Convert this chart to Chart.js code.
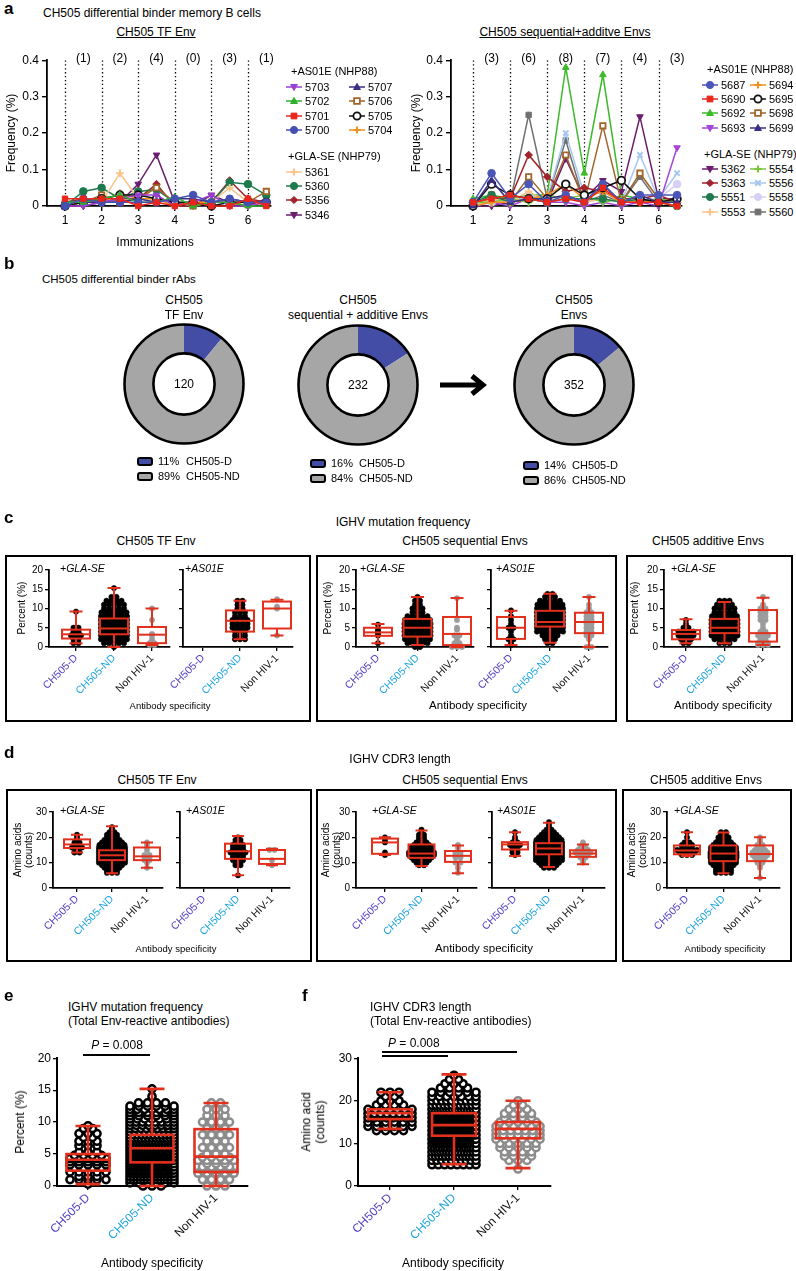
<!DOCTYPE html>
<html><head><meta charset="utf-8">
<script src="https://cdn.jsdelivr.net/npm/chart.js@4.4.1/dist/chart.umd.min.js"></script>
<style>
html,body{margin:0;padding:0;background:#fff}
body{width:796px;height:1271px;position:relative;overflow:hidden;font-family:"Liberation Sans",Arial,Helvetica,sans-serif;color:#000}
.t{position:absolute;white-space:nowrap;line-height:1}
canvas{position:absolute}
.frame{position:absolute;border:2px solid #000;box-sizing:border-box}
.sw{position:absolute;width:16px;height:9px;border:2px solid #000;border-radius:3px;box-sizing:border-box}
</style></head><body>
<script>
// ---------------- DATA ----------------
// Panel a: time points (pre/post each immunization)
const immunizationX = [1,1.5,2,2.5,3,3.5,4,4.5,5,5.5,6,6.5];
const immunizationTicks = [1,2,3,4,5,6];
const tfCounts  = ['(1)','(2)','(4)','(0)','(3)','(1)'];
const seqCounts = ['(3)','(6)','(8)','(7)','(4)','(3)'];
const freqTicks = [0,0.1,0.2,0.3,0.4];

const tfIds = ['5701','5700','5702','5703','5707','5705','5704','5706','5361','5360','5356','5346'];
const tfFreq = [
  [0.02,0.02,0.02,0.02,0,0.01,0,0.01,0,0,0.02,0],          // 5701
  [0,0.02,0.01,0.01,0.01,0.01,0.02,0.03,0.01,0.02,0.01,0.01], // 5700
  [0.01,0.01,0.02,0.03,0.01,0.01,0.025,0,0.01,0.01,0,0],   // 5702
  [0,0,0.01,0.02,0.03,0.03,0,0.01,0.03,0,0,0.01],          // 5703
  [0.01,0.01,0.01,0.01,0.02,0.01,0.02,0.02,0.01,0.02,0.01,0.01], // 5707
  [0,0.01,0.02,0.03,0.03,0.02,0.01,0.01,0,0.01,0.01,0.01], // 5705
  [0,0.01,0.01,0.035,0.02,0.02,0,0.01,0.01,0.01,0,0.01],   // 5704
  [0,0.01,0.03,0.01,0.02,0.05,0.01,0,0.01,0.01,0.01,0.04], // 5706
  [0,0.01,0.01,0.09,0.02,0.02,0.01,0,0.01,0.05,0.01,0.01], // 5361
  [0,0.04,0.05,0.02,0.04,0.045,0.01,0.005,0.01,0.065,0.06,0.03], // 5360
  [0.01,0.02,0.01,0.02,0.02,0.06,0,0,0.01,0.07,0.02,0.01], // 5356
  [0,0,0.01,0.01,0.06,0.14,0.01,0,0.03,0.01,0,0.02]        // 5346
];
const seqIds = ['5690','5687','5699','5695','5694','5551','5554','5553','5558','5693','5363','5698','5556','5560','5362','5692'];
const seqFreq = [
  [0.01,0.02,0.03,0.02,0.01,0.02,0.01,0.05,0.01,0.01,0.01,0],     // 5690
  [0.01,0.09,0.02,0.06,0.01,0.03,0.01,0.06,0.01,0.03,0.03,0.03],  // 5687
  [0,0.07,0.01,0.02,0.02,0.03,0.01,0.06,0.01,0.03,0.01,0.01],     // 5699
  [0,0.06,0.03,0.02,0.02,0.06,0.03,0.05,0.07,0.02,0.01,0.02],     // 5695
  [0,0.01,0.01,0.02,0.03,0.06,0.02,0.04,0.01,0.01,0.01,0],        // 5694
  [0.01,0.03,0.01,0.02,0.01,0.02,0.02,0.02,0.01,0.02,0.01,0],     // 5551
  [0.01,0.01,0.02,0.01,0.03,0.02,0.03,0.01,0.02,0.01,0.02,0.01],  // 5554
  [0,0.02,0.01,0.04,0.01,0.03,0.01,0.02,0.01,0.02,0.01,0],        // 5553
  [0,0.01,0.01,0.02,0.01,0.03,0.01,0.02,0.01,0.02,0.02,0.06],     // 5558
  [0,0.01,0,0.02,0.01,0.01,0,0.01,0,0.01,0,0.16],                 // 5693
  [0.01,0.02,0.02,0.14,0.08,0.04,0.05,0.04,0.02,0.02,0.03,0.01],  // 5363
  [0,0.03,0.01,0.08,0.02,0.14,0.01,0.22,0.01,0.09,0.02,0.01],     // 5698
  [0,0.02,0.01,0.03,0.02,0.2,0.03,0.04,0.01,0.14,0.02,0.09],      // 5556
  [0,0.02,0.01,0.25,0.02,0.18,0.01,0.03,0.01,0.08,0.01,0.01],     // 5560
  [0,0,0.01,0.02,0.01,0.13,0.02,0.07,0.04,0.245,0.02,0.02],       // 5362
  [0.02,0.03,0.02,0.03,0.03,0.38,0.09,0.36,0.03,0.02,0.02,0.01]   // 5692
];

// Panel b
const donutTitles = [['CH505','TF Env'],['CH505','sequential + additive Envs'],['CH505','Envs']];
const donutTotals = [120, 232, 352];
const donutPctD  = [11, 16, 14];
const donutPctND = [89, 84, 86];
const donutLabels = ['CH505-D','CH505-ND'];

// Panels c-f categories
const CATS = ['CH505-D','CH505-ND','Non HIV-1'];
const pctTicksC = [0,5,10,15,20];
const aaTicksD = [0,10,20,30];

// box stats: [min, q1, median, q3, max]
const cTF_GLA_box  = [[1.0,2.2,3.3,4.5,9.2],[0,3.3,4.8,7.4,15.3],[0.5,1.0,3.2,5.2,10.0]];
const cTF_AS_box   = [null,[2.0,4.0,6.8,9.5,12.0],[3.0,4.8,10.0,11.8,12.3]];
const cSeq_GLA_box = [[1.0,2.9,3.8,5.0,6.0],[0.5,2.7,5.0,7.3,13.0],[0,0.5,3.4,7.8,12.7]];
const cSeq_AS_box  = [[0.5,2.1,5.0,7.8,9.4],[1.1,5.3,6.5,9.4,13.8],[0,3.6,6.5,8.9,13.0]];
const cAdd_GLA_box = [[1.0,2.0,3.4,4.4,7.2],[1.0,3.6,5.0,7.3,11.7],[0.5,1.4,3.6,9.6,12.8]];

// dot histograms: [value, count]
const cTF_GLA_D   = [[1,2],[2,2],[3,3],[3.5,2],[4,2],[5,2],[9.2,1]];
const cTF_GLA_ND  = [[0,1],[1,5],[2,8],[3,10],[4,12],[5,12],[6,10],[7,9],[8,7],[9,6],[10,5],[11,5],[12,4],[13,2],[15.3,1]];
const cTF_GLA_Non = [[0.5,2],[1,2],[2,1],[3,1],[3.4,1],[7,1],[10,1]];
const cTF_AS_ND   = [[2,3],[3,3],[4,3],[5,4],[6,4],[7,4],[8,3],[9,3],[10,2],[11,2],[12,2]];
const cTF_AS_Non  = [[3,1],[10,1],[10.5,1],[12.4,1]];
const cSeq_GLA_D   = [[1,1],[3,1],[3.5,1],[4,1],[4.5,1],[5.8,1]];
const cSeq_GLA_ND  = [[0,2],[1,5],[2,6],[3,7],[4,8],[5,8],[6,7],[7,6],[8,5],[9,3],[10,3],[11,2],[12,2],[13,1]];
const cSeq_GLA_Non = [[0,3],[0.5,1],[1,2],[2,1],[3,2],[4.5,1],[5,1],[7,1],[12.7,1]];
const cSeq_AS_D    = [[0.5,1],[1,1],[2,2],[3,1],[4,1],[5,2],[6,1],[7,1],[8,1],[9.5,1]];
const cSeq_AS_ND   = [[1,2],[2,3],[3,4],[4,7],[5,10],[6,12],[7,12],[8,11],[9,10],[10,8],[11,6],[12,5],[13,3],[13.8,2]];
const cSeq_AS_Non  = [[0,2],[2,1],[3,2],[4,2],[5,2],[6,2],[7,2],[8,2],[9,2],[10,1],[11,1],[13,1]];
const cAdd_GLA_D   = [[1,2],[2,3],[3,4],[3.5,3],[4,4],[5,2],[6,1],[7,1]];
const cAdd_GLA_ND  = [[1,3],[2,5],[3,7],[4,8],[5,9],[6,8],[7,7],[8,6],[9,5],[10,5],[11,4],[12,3]];
const cAdd_GLA_Non = [[0.5,3],[1,3],[2,2],[3,3],[4,2],[5,1],[6,1],[7,2],[8,2],[9,2],[10,2],[11,1],[13,1]];

const dTF_GLA_box  = [[14,15.8,17.2,19.2,21],[5.8,11.0,12.9,14.9,24.4],[8,11,12.5,16,18]];
const dTF_AS_box   = [null,[5,11.5,14.5,17.5,20.5],[9,9.5,11.5,15,15.5]];
const dSeq_GLA_box = [[13,13.5,18,19.5,20],[8.7,11.9,13.6,17.2,22.7],[5.8,10.3,12.7,14.6,16.8]];
const dSeq_AS_box  = [[12.6,15.2,17.2,18.1,22],[8.3,13.3,15.6,17.7,25.8],[9.4,12.3,13.6,14.9,17.2]];
const dAdd_GLA_box = [[12.6,13.3,14.8,16.8,22],[5.8,10.6,13.6,16.8,21.9],[3.9,10.6,13.4,16.8,20]];

const dTF_GLA_D   = [[14,2],[15,1],[16,3],[17,2],[18,2],[19,1],[20,1],[21,1]];
const dTF_GLA_ND  = [[6,3],[7,3],[8,4],[9,5],[10,7],[11,9],[12,11],[13,11],[14,10],[15,9],[16,7],[17,6],[18,5],[19,4],[20,3],[21,3],[22,2],[23,1],[24,1]];
const dTF_GLA_Non = [[8,1],[10,1],[11,2],[12,2],[13,2],[15,1],[17,1],[18,1]];
const dTF_AS_ND   = [[5,1],[9,2],[10,2],[11,3],[12,3],[13,3],[14,4],[15,3],[16,3],[17,3],[18,2],[19,2],[20,1]];
const dTF_AS_Non  = [[9,1],[11,1],[15,2]];
const dSeq_GLA_D   = [[13,1],[14,1],[18,1],[19,1],[20,1]];
const dSeq_GLA_ND  = [[9,2],[10,3],[11,4],[12,5],[13,6],[14,6],[15,5],[16,5],[17,4],[18,3],[19,2],[20,2],[21,2],[22,1],[23,1]];
const dSeq_GLA_Non = [[6,1],[8,1],[10,2],[12,2],[13,2],[14,2],[16,1],[17,1]];
const dSeq_AS_D    = [[13,1],[14,2],[15,2],[16,2],[17,3],[18,2],[19,1],[20,1],[22,1]];
const dSeq_AS_ND   = [[8,3],[9,4],[10,5],[11,7],[12,8],[13,9],[14,10],[15,10],[16,10],[17,9],[18,8],[19,6],[20,5],[21,4],[22,3],[23,2],[24,1],[25,1],[26,1]];
const dSeq_AS_Non  = [[10,1],[11,1],[12,2],[13,3],[14,4],[15,3],[16,2],[17,1],[18,1]];
const dAdd_GLA_D   = [[13,3],[14,4],[15,5],[16,3],[17,3],[18,2],[20,1],[22,1]];
const dAdd_GLA_ND  = [[6,4],[7,4],[8,4],[9,5],[10,6],[11,6],[12,7],[13,8],[14,7],[15,6],[16,6],[17,5],[18,4],[19,3],[20,3],[21,2],[22,2]];
const dAdd_GLA_Non = [[4,1],[8,1],[9,1],[10,2],[11,2],[12,3],[13,4],[14,4],[15,3],[16,2],[17,2],[18,1],[19,1],[20,1]];

const eBox = [[0.3,2.4,4.1,5.0,9.4],[0,3.7,5.9,8.0,15.2],[0,2.2,4.6,8.9,13.0]];
const eD   = [[0.3,1],[1,5],[1.5,3],[2.2,5],[2.8,4],[3.3,5],[3.8,5],[4.3,5],[4.8,4],[5.3,3],[6.3,3],[7,3],[7.6,2],[8.2,3],[9,2],[9.4,1]];
const eND  = [[0,3],[0.5,6],[1,14],[1.5,14],[2,18],[2.5,18],[3,20],[3.5,20],[4,22],[4.5,22],[5,22],[5.5,20],[6,18],[6.5,16],[7,15],[7.5,13],[8,12],[8.5,10],[9,9],[9.5,8],[10,8],[10.5,7],[11,6],[11.5,6],[12,7],[12.5,6],[13,4],[14,1],[15.2,1]];
const eNon = [[0,3],[1,4],[2,5],[2.5,4],[3,4],[3.5,3],[4,5],[4.5,4],[5,3],[6,4],[7,3],[8,4],[9,3],[10,4],[11,3],[12,3],[13,2]];
const fBox = [[13.4,15.7,17.1,18,22],[5.1,11.8,14.3,17.1,26.2],[4.2,11.2,13.4,15,20]];
const fD   = [[13,4],[14,6],[15,6],[16,8],[17,8],[18,7],[19,4],[20,3],[21,2],[22,3]];
const fND  = [[5,8],[6,10],[7,14],[8,16],[9,18],[10,22],[11,24],[12,26],[13,26],[14,26],[15,24],[16,22],[17,20],[18,16],[19,12],[20,10],[21,7],[22,6],[23,4],[24,3],[25,2],[26,1]];
const fNon = [[4,1],[6,3],[7,4],[8,4],[9,5],[10,5],[11,6],[12,7],[13,7],[14,6],[15,5],[16,4],[17,4],[18,3],[19,2],[20,1]];

// ---------------- STYLES ----------------
const STYLE = {
  '5703':{c:'#9a3fd0',s:'triangle',rot:180}, '5702':{c:'#2fae2f',s:'triangle'}, '5701':{c:'#e8261c',s:'rect'},
  '5700':{c:'#4550b0',s:'circle'}, '5707':{c:'#3a2d86',s:'triangle'}, '5706':{c:'#a0662b',s:'rect',open:true},
  '5705':{c:'#111111',s:'circle',open:true}, '5704':{c:'#f2901e',s:'cross'}, '5361':{c:'#f8c48a',s:'cross'},
  '5360':{c:'#1e7a4c',s:'circle'}, '5356':{c:'#a1232b',s:'rectRot'}, '5346':{c:'#6b1d6d',s:'triangle',rot:180},
  '5687':{c:'#4a56b8',s:'circle'}, '5690':{c:'#e8261c',s:'rect'}, '5692':{c:'#3cba2a',s:'triangle'},
  '5693':{c:'#a545d6',s:'triangle',rot:180}, '5694':{c:'#f2901e',s:'cross'}, '5695':{c:'#111111',s:'circle',open:true},
  '5698':{c:'#a0662b',s:'rect',open:true}, '5699':{c:'#3a2d86',s:'triangle'}, '5362':{c:'#6b1d6d',s:'triangle',rot:180},
  '5363':{c:'#a1232b',s:'rectRot'}, '5551':{c:'#1e7a4c',s:'circle'}, '5553':{c:'#f8c48a',s:'cross'},
  '5554':{c:'#7cc43c',s:'cross'}, '5556':{c:'#a7c8ee',s:'crossRot'}, '5558':{c:'#d7d0f2',s:'circle'}, '5560':{c:'#707070',s:'rect'}
};
const CAT_COLORS = ['#4f3fc0','#1ea4de','#111111'];
const RED = '#e3301c';
const BLUE = '#434da6', GREY = '#a6a6a6';

Chart.defaults.font.family = '"Liberation Sans", Arial, Helvetica, sans-serif';
Chart.defaults.color = '#000';
Chart.defaults.animation = false;
Chart.defaults.responsive = false;
Chart.defaults.plugins.legend.display = false;
Chart.defaults.plugins.tooltip.enabled = false;

// ---------------- HELPERS ----------------
function T(html, x, y, size, o = {}) {
  const d = document.createElement('div');
  d.className = 't';
  d.innerHTML = html;
  d.style.fontSize = size + 'px';
  d.style.left = x + 'px'; d.style.top = y + 'px';
  if (o.bold) d.style.fontWeight = 'bold';
  if (o.italic) d.style.fontStyle = 'italic';
  if (o.color) d.style.color = o.color;
  if (o.u) d.style.textDecoration = 'underline';
  if (o.lh) { d.style.lineHeight = o.lh; d.style.textAlign = 'center'; }
  const ax = o.align === 'l' ? '0' : o.align === 'r' ? '-100%' : '-50%';
  d.style.transform = `translate(${ax},-50%)` + (o.rot ? ` rotate(${o.rot}deg)` : '');
  document.body.appendChild(d);
  return d;
}
function box(cls, x, y, w, h, bg) {
  const d = document.createElement('div'); d.className = cls;
  d.style.left = x + 'px'; d.style.top = y + 'px'; d.style.width = w + 'px'; d.style.height = h + 'px';
  if (bg) d.style.background = bg;
  document.body.appendChild(d); return d;
}
function makeCanvas(x, y, w, h) {
  const c = document.createElement('canvas');
  c.width = Math.round(w); c.height = Math.round(h);
  c.style.left = Math.round(x) + 'px'; c.style.top = Math.round(y) + 'px';
  c.style.width = Math.round(w) + 'px'; c.style.height = Math.round(h) + 'px';
  document.body.appendChild(c); return c;
}
function drawMarker(ctx, st, x, y, r) {
  ctx.save(); ctx.translate(x, y); if (st.rot) ctx.rotate(st.rot * Math.PI / 180);
  ctx.fillStyle = st.open ? '#fff' : st.c; ctx.strokeStyle = st.c;
  ctx.lineWidth = st.open ? 1.8 : (st.s === 'cross' || st.s === 'crossRot' ? 2 : 1);
  ctx.beginPath();
  if (st.s === 'circle') ctx.arc(0, 0, r, 0, 2 * Math.PI);
  else if (st.s === 'rect') { const s = r * 0.8; ctx.rect(-s, -s, 2 * s, 2 * s); }
  else if (st.s === 'rectRot') { ctx.moveTo(0, -r); ctx.lineTo(r, 0); ctx.lineTo(0, r); ctx.lineTo(-r, 0); ctx.closePath(); }
  else if (st.s === 'triangle') { ctx.moveTo(0, -r); ctx.lineTo(r * 0.95, r * 0.7); ctx.lineTo(-r * 0.95, r * 0.7); ctx.closePath(); }
  else if (st.s === 'cross') { ctx.moveTo(-r, 0); ctx.lineTo(r, 0); ctx.moveTo(0, -r); ctx.lineTo(0, r); }
  else if (st.s === 'crossRot') { const s = r * 0.75; ctx.moveTo(-s, -s); ctx.lineTo(s, s); ctx.moveTo(s, -s); ctx.lineTo(-s, s); }
  if (st.s !== 'cross' && st.s !== 'crossRot') ctx.fill();
  ctx.stroke(); ctx.restore();
}
function legendRow(x, y, id) {
  const st = STYLE[id];
  const cv = makeCanvas(x - 10, y - 6, 20, 12);
  const ctx = cv.getContext('2d');
  ctx.strokeStyle = st.c; ctx.lineWidth = 1.5;
  ctx.beginPath(); ctx.moveTo(2, 6); ctx.lineTo(18, 6); ctx.stroke();
  drawMarker(ctx, st, 10, 6, 3.6);
  T(id, x + 11, y, 11, { align: 'l' });
}
function swarm(hist, cat, unit, sp, half) {
  const out = [];
  (hist || []).forEach(([v, n]) => {
    let s = sp;
    if (n > 1 && (n - 1) * s / 2 > half) s = 2 * half / (n - 1);
    for (let i = 0; i < n; i++) out.push({ x: cat + ((i - (n - 1) / 2) * s) / unit, y: v });
  });
  return out;
}

// ---------------- PANEL a ----------------
function lineChart(o) {
  const W = 44, H = 34, PT = 10, PR = 8;
  const xmin = 1 - (o.x1 - o.axisX) / o.unit, xmax = 1 + (o.right - o.x1) / o.unit;
  const cv = makeCanvas(o.axisX - W, o.top - PT, o.right - o.axisX + W + PR, o.bottom - o.top + PT + H);
  const datasets = o.ids.map((id, k) => {
    const st = STYLE[id];
    return {
      data: immunizationX.map((x, i) => ({ x, y: o.values[k][i] })),
      showLine: true, borderColor: st.c, borderWidth: 1.5,
      pointStyle: st.s, rotation: st.rot || 0, pointRotation: st.rot || 0, pointRadius: 3.8,
      pointBackgroundColor: st.open ? '#fff' : st.c, pointBorderColor: st.c,
      pointBorderWidth: st.open ? 1.8 : (st.s === 'cross' || st.s === 'crossRot' ? 2 : 1), clip: false
    };
  });
  const dotted = { id: 'dotted', beforeDatasetsDraw(ch) {
    const { ctx, scales: { x, y } } = ch; ctx.save();
    ctx.setLineDash([1.3, 2.6]); ctx.lineWidth = 1.3; ctx.strokeStyle = '#000';
    immunizationTicks.forEach(k => { const px = Math.round(x.getPixelForValue(k)) + 0.5;
      ctx.beginPath(); ctx.moveTo(px, y.getPixelForValue(0)); ctx.lineTo(px, y.getPixelForValue(0.4)); ctx.stroke(); });
    ctx.restore(); } };
  new Chart(cv, { type: 'scatter', data: { datasets }, options: {
    layout: { padding: { top: PT, right: PR, left: 0, bottom: 0 }, autoPadding: false },
    scales: {
      x: { type: 'linear', min: xmin, max: xmax,
        afterBuildTicks: s => { s.ticks = immunizationTicks.map(v => ({ value: v })); },
        afterFit: s => { s.height = H; },
        grid: { display: true, drawOnChartArea: false, drawTicks: true, tickLength: 5, color: '#000', lineWidth: 1.4 },
        border: { display: true, color: '#000', width: 1.8 },
        ticks: { autoSkip: false, maxRotation: 0, padding: 2, font: { size: 12 }, callback: v => String(v) } },
      y: { type: 'linear', min: 0, max: 0.4,
        afterBuildTicks: s => { s.ticks = freqTicks.map(v => ({ value: v })); },
        afterFit: s => { s.width = W; },
        grid: { display: true, drawOnChartArea: false, drawTicks: true, tickLength: 5, color: '#000', lineWidth: 1.4 },
        border: { display: true, color: '#000', width: 1.8 },
        ticks: { padding: 3, font: { size: 12 }, callback: v => v === 0 ? '0' : v.toFixed(1) } }
    } }, plugins: [dotted] });
  o.counts.forEach((s, k) => T(s, o.x1 + (k + 0.5) * o.unit, 58, 12));
}

T('a', 4, 8, 17, { align: 'l', bold: true });
T('CH505 differential binder memory B cells', 43, 13, 12, { align: 'l' });
T('CH505 TF Env', 156, 32, 12, { u: true });
T('CH505 sequential+additve Envs', 565, 32, 12, { u: true });
lineChart({ axisX: 47, x1: 65, unit: 36.6, right: 271, top: 60, bottom: 206, ids: tfIds, values: tfFreq, counts: tfCounts });
lineChart({ axisX: 451, x1: 473, unit: 37.1, right: 682, top: 60, bottom: 206, ids: seqIds, values: seqFreq, counts: seqCounts });
T('Frequency (%)', 11, 133, 12, { rot: -90 });
T('Frequency (%)', 416, 133, 12, { rot: -90 });
T('Immunizations', 155, 242, 12);
T('Immunizations', 557, 242, 12);
// legends
T('+AS01E (NHP88)', 291, 71, 11, { align: 'l' });
[['5703','5707'],['5702','5706'],['5701','5705'],['5700','5704']].forEach((r, i) => { legendRow(294, 87 + i * 14.4, r[0]); legendRow(357, 87 + i * 14.4, r[1]); });
T('+GLA-SE (NHP79)', 288, 156, 11, { align: 'l' });
['5361','5360','5356','5346'].forEach((id, i) => legendRow(294, 172 + i * 14.2, id));
T('+AS01E (NHP88)', 707, 69, 11, { align: 'l' });
[['5687','5694'],['5690','5695'],['5692','5698'],['5693','5699']].forEach((r, i) => { legendRow(710, 85 + i * 14.2, r[0]); legendRow(758, 85 + i * 14.2, r[1]); });
T('+GLA-SE (NHP79)', 704, 154, 11, { align: 'l' });
[['5362','5554'],['5363','5556'],['5551','5558'],['5553','5560']].forEach((r, i) => { legendRow(710, 169 + i * 14.2, r[0]); legendRow(758, 169 + i * 14.2, r[1]); });

// ---------------- PANEL b ----------------
T('b', 4, 263, 17, { align: 'l', bold: true });
T('CH505 differential binder rAbs', 42, 280, 11.5, { align: 'l' });
const ring = { id: 'ring', afterDatasetsDraw(ch) {
  const a = ch.getDatasetMeta(0).data[0]; const ctx = ch.ctx; ctx.save();
  ctx.strokeStyle = '#000'; ctx.lineWidth = 2.6;
  ctx.beginPath(); ctx.arc(a.x, a.y, a.outerRadius - 0.5, 0, 2 * Math.PI); ctx.stroke();
  ctx.beginPath(); ctx.arc(a.x, a.y, a.innerRadius, 0, 2 * Math.PI); ctx.stroke();
  ctx.restore(); } };
const donutCenters = [[184, 384], [358, 385], [574, 385]];
const donutLegendPos = [[137, 461], [310, 463], [523, 465]];
donutCenters.forEach(([cx, cy], i) => {
  const r = 60, pad = 3;
  const cv = makeCanvas(cx - r - pad, cy - r - pad, 2 * (r + pad), 2 * (r + pad));
  new Chart(cv, { type: 'doughnut', data: { labels: donutLabels, datasets: [{ data: [donutPctD[i], donutPctND[i]], backgroundColor: [BLUE, GREY], borderWidth: 0 }] },
    options: { cutout: '51%', layout: { padding: pad } }, plugins: [ring] });
  T(donutTitles[i][0], cx, 300, 12);
  T(donutTitles[i][1], cx, 315, 12);
  T(String(donutTotals[i]), cx, cy, 12);
  const [lx, ly] = donutLegendPos[i];
  box('sw', lx, ly - 4.5, 16, 9, BLUE);
  box('sw', lx, ly + 10.5, 16, 9, GREY);
  T(donutPctD[i] + '%', lx + 21, ly, 11, { align: 'l' });
  T(donutLabels[0], lx + 49, ly, 11, { align: 'l' });
  T(donutPctND[i] + '%', lx + 21, ly + 15, 11, { align: 'l' });
  T(donutLabels[1], lx + 49, ly + 15, 11, { align: 'l' });
});
(function arrow() {
  const s = document.createElementNS('http://www.w3.org/2000/svg', 'svg');
  s.setAttribute('width', '52'); s.setAttribute('height', '24');
  s.style.position = 'absolute'; s.style.left = '438px'; s.style.top = '373px';
  s.innerHTML = '<line x1="2" y1="12" x2="44" y2="12" stroke="#000" stroke-width="5"/><polyline points="34,3 45,12 34,21" fill="none" stroke="#000" stroke-width="5"/>';
  document.body.appendChild(s);
})();

// ---------------- BOX CHARTS ----------------
function boxChart(o) {
  const W = 60, H = 80, PT = 9, PR = 14;
  const unit = (o.cats[2] - o.cats[0]) / 2;
  const xmin = 1 - (o.cats[0] - o.left) / unit;
  const xmax = 3 + (o.right - o.cats[2]) / unit;
  const cv = makeCanvas(o.left - W, o.top - PT, o.right - o.left + W + PR, o.bottom - o.top + PT + H);
  const ds = o.hists.map((h, i) => {
    const col = i === 2 ? o.dot.grey : '#000';
    return { data: swarm(h, i + 1, unit, o.dot.sp, o.dot.half), pointRadius: o.dot.r, pointBorderWidth: o.dot.bw,
      pointBorderColor: col, pointBackgroundColor: o.dot.open ? '#fff' : col, showLine: false, clip: false };
  });
  const bp = { id: 'boxes', afterDatasetsDraw(ch) {
    const { ctx, scales: { x, y } } = ch; ctx.save();
    ctx.strokeStyle = RED; ctx.lineWidth = o.lw; ctx.lineCap = 'butt';
    o.boxes.forEach((b, i) => {
      if (!b) return;
      const cx = x.getPixelForValue(i + 1), hw = o.boxW / 2, cw = o.capW / 2;
      const [mn, q1, md, q3, mx] = b.map(v => y.getPixelForValue(v));
      ctx.beginPath();
      ctx.moveTo(cx, q3); ctx.lineTo(cx, mx); ctx.moveTo(cx - cw, mx); ctx.lineTo(cx + cw, mx);
      ctx.moveTo(cx, q1); ctx.lineTo(cx, mn); ctx.moveTo(cx - cw, mn); ctx.lineTo(cx + cw, mn);
      ctx.stroke();
      ctx.strokeRect(cx - hw, q3, 2 * hw, q1 - q3);
      ctx.beginPath(); ctx.moveTo(cx - hw, md); ctx.lineTo(cx + hw, md); ctx.stroke();
    });
    ctx.restore(); } };
  new Chart(cv, { type: 'scatter', data: { datasets: ds }, options: {
    layout: { padding: { top: PT, right: PR, left: 0, bottom: 0 }, autoPadding: false },
    scales: {
      x: { type: 'linear', min: xmin, max: xmax,
        afterBuildTicks: s => { s.ticks = [1, 2, 3].map(v => ({ value: v })); },
        afterFit: s => { s.height = H; },
        grid: { display: true, drawOnChartArea: false, drawTicks: true, tickLength: 4, color: '#000', lineWidth: 1.3 },
        border: { display: true, color: '#000', width: o.axisW },
        ticks: { autoSkip: false, minRotation: 45, maxRotation: 45, padding: 1, font: { size: o.xFont },
          color: c => CAT_COLORS[c.index], callback: v => CATS[Math.round(v) - 1] } },
      y: { type: 'linear', min: 0, max: o.ymax,
        afterBuildTicks: s => { s.ticks = o.yticks.map(v => ({ value: v })); },
        afterFit: s => { s.width = W; },
        grid: { display: true, drawOnChartArea: false, drawTicks: true, tickLength: 4, color: '#000', lineWidth: 1.3 },
        border: { display: true, color: '#000', width: o.axisW },
        ticks: { padding: 2, font: { size: o.tickFont }, callback: v => o.labels ? String(v) : '' } }
    } }, plugins: [bp] });
}
const smallDot = { r: 2.7, bw: 0.5, open: false, sp: 5, half: 13, grey: '#9b9b9b' };
const smallBase = { boxW: 28, capW: 13, lw: 2, axisW: 1.8, xFont: 10.5, tickFont: 10, dot: smallDot };

// ---------------- PANEL c ----------------
T('c', 4, 517, 17, { align: 'l', bold: true });
T('IGHV mutation frequency', 403, 522, 12);
T('CH505 TF Env', 156, 541, 12);
T('CH505 sequential Envs', 465, 541, 12);
T('CH505 additive Envs', 708, 541, 12);
box('frame', 5, 555, 306, 167); box('frame', 316, 555, 301, 167); box('frame', 626, 555, 167, 167);
const cSub = [
  { left: 49, right: 170, cats: [76, 114, 152], labels: true, boxes: cTF_GLA_box, hists: [cTF_GLA_D, cTF_GLA_ND, cTF_GLA_Non], tag: '+GLA-SE', tagX: 60 },
  { left: 183, right: 293, cats: [203, 240, 277], labels: false, boxes: cTF_AS_box, hists: [null, cTF_AS_ND, cTF_AS_Non], tag: '+AS01E', tagX: 185 },
  { left: 356, right: 474, cats: [378, 417, 457], labels: true, boxes: cSeq_GLA_box, hists: [cSeq_GLA_D, cSeq_GLA_ND, cSeq_GLA_Non], tag: '+GLA-SE', tagX: 360 },
  { left: 491, right: 608, cats: [511, 550, 589], labels: false, boxes: cSeq_AS_box, hists: [cSeq_AS_D, cSeq_AS_ND, cSeq_AS_Non], tag: '+AS01E', tagX: 496 },
  { left: 664, right: 780, cats: [686, 724, 763], labels: true, boxes: cAdd_GLA_box, hists: [cAdd_GLA_D, cAdd_GLA_ND, cAdd_GLA_Non], tag: '+GLA-SE', tagX: 671 }
];
cSub.forEach(s => { boxChart(Object.assign({}, smallBase, s, { top: 570, bottom: 647, ymax: 20, yticks: pctTicksC })); T(s.tag, s.tagX, 568, 10.5, { align: 'l', italic: true }); });
T('Percent (%)', 22, 608, 10, { rot: -90 });
T('Percent (%)', 328, 608, 10, { rot: -90 });
T('Percent (%)', 635, 608, 10, { rot: -90 });
T('Antibody specificity', 170, 706, 9.5);
T('Antibody specificity', 478, 706, 11.5);
T('Antibody specificity', 723, 706, 11.5);

// ---------------- PANEL d ----------------
T('d', 4, 752, 17, { align: 'l', bold: true });
T('IGHV CDR3 length', 400, 759, 12);
T('CH505 TF Env', 157, 780, 12);
T('CH505 sequential Envs', 465, 780, 12);
T('CH505 additive Envs', 706, 780, 12);
box('frame', 6, 789, 306, 173); box('frame', 316, 789, 301, 173); box('frame', 622, 789, 170, 173);
const dSub = [
  { left: 53, right: 163, cats: [77, 112, 147], labels: true, boxes: dTF_GLA_box, hists: [dTF_GLA_D, dTF_GLA_ND, dTF_GLA_Non], tag: '+GLA-SE', tagX: 60 },
  { left: 180, right: 290, cats: [204, 238, 272], labels: false, boxes: dTF_AS_box, hists: [null, dTF_AS_ND, dTF_AS_Non], tag: '+AS01E', tagX: 186 },
  { left: 356, right: 477, cats: [385, 420, 458], labels: true, boxes: dSeq_GLA_box, hists: [dSeq_GLA_D, dSeq_GLA_ND, dSeq_GLA_Non], tag: '+GLA-SE', tagX: 372 },
  { left: 492, right: 605, cats: [515, 549, 583], labels: false, boxes: dSeq_AS_box, hists: [dSeq_AS_D, dSeq_AS_ND, dSeq_AS_Non], tag: '+AS01E', tagX: 497 },
  { left: 667, right: 780, cats: [687, 723, 760], labels: true, boxes: dAdd_GLA_box, hists: [dAdd_GLA_D, dAdd_GLA_ND, dAdd_GLA_Non], tag: '+GLA-SE', tagX: 674 }
];
dSub.forEach(s => { boxChart(Object.assign({}, smallBase, { boxW: 26, capW: 12 }, s, { top: 812, bottom: 888, ymax: 30, yticks: aaTicksD })); T(s.tag, s.tagX, 810, 10.5, { align: 'l', italic: true }); });
T('Amino acids<br>(counts)', 23, 850, 10, { rot: -90, lh: '1.05' });
T('Amino acids<br>(counts)', 331, 850, 10, { rot: -90, lh: '1.05' });
T('Amino acids<br>(counts)', 637, 850, 10, { rot: -90, lh: '1.05' });
T('Antibody specificity', 176, 949, 9.5);
T('Antibody specificity', 484, 949, 11.5);
T('Antibody specificity', 725, 949, 9.5);

// ---------------- PANELS e, f ----------------
const bigDot = { r: 3.6, bw: 2.5, open: true, sp: 9, half: 22, grey: '#8c8c8c' };
const bigBase = { boxW: 43, capW: 25, lw: 2.6, axisW: 2, xFont: 12, tickFont: 12, dot: bigDot, labels: true };
T('e', 4, 995, 17, { align: 'l', bold: true });
T('IGHV mutation frequency', 68, 1007, 12, { align: 'l' });
T('(Total Env-reactive antibodies)', 68, 1021, 12, { align: 'l' });
boxChart(Object.assign({}, bigBase, { left: 57, right: 248, top: 1058, bottom: 1186, ymax: 20, yticks: pctTicksC, cats: [88, 152, 216], boxes: eBox, hists: [eD, eND, eNon] }));
T('<i>P</i> = 0.008', 117, 1045, 12);
box('t', 83, 1054, 67, 2, '#000');
T('Percent (%)', 20, 1122, 12, { rot: -90 });
T('Antibody specificity', 152, 1263, 12);

T('f', 302, 995, 17, { align: 'l', bold: true });
T('IGHV CDR3 length', 370, 1007, 12, { align: 'l' });
T('(Total Env-reactive antibodies)', 370, 1021, 12, { align: 'l' });
boxChart(Object.assign({}, bigBase, { boxW: 44, left: 358, right: 551, top: 1058, bottom: 1186, ymax: 30, yticks: aaTicksD, cats: [390, 454, 518], boxes: fBox, hists: [fD, fND, fNon] }));
T('<i>P</i> = 0.008', 388, 1043, 12, { align: 'l' });
box('t', 382, 1051, 135, 2, '#000');
box('t', 382, 1055, 66, 2, '#000');
T('Amino acid<br>(counts)', 314, 1122, 12, { rot: -90, lh: '1.15' });
T('Antibody specificity', 453, 1263, 12);
</script>
</body></html>
